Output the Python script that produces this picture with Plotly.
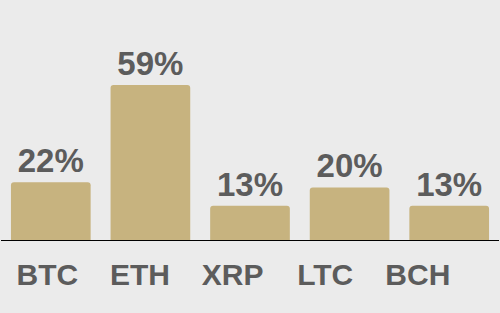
import plotly.graph_objects as go

categories = ["BTC", "ETH", "XRP", "LTC", "BCH"]
values = [22, 59, 13, 20, 13]
value_labels = ["22%", "59%", "13%", "20%", "13%"]

BG = "#ebebeb"
BAR = "#c7b37f"
TXT = "#5c5c5c"
FONT = "Liberation Sans, Arial, sans-serif"

fig = go.Figure()
fig.add_trace(go.Bar(
    x=categories, y=values, text=value_labels, textposition="outside",
    textfont=dict(family=FONT, size=33, color=TXT, weight="bold"),
    marker=dict(color=BAR, cornerradius=3, line=dict(width=0)),
    cliponaxis=False, showlegend=False, hoverinfo="skip",
))
fig.add_trace(go.Scatter(
    x=categories, y=[0] * len(categories), xaxis="x2", yaxis="y",
    mode="markers", marker=dict(opacity=0), showlegend=False, hoverinfo="skip",
))

fig.update_layout(
    width=500, height=313,
    margin=dict(l=1, r=1, t=0, b=73, pad=0),
    paper_bgcolor=BG, plot_bgcolor="rgba(0,0,0,0)",
    bargap=0.2,
    xaxis=dict(type="category", showticklabels=False, showgrid=False, zeroline=False,
               showline=True, linecolor="black", linewidth=1, ticks="",
               domain=[0, 1], range=[-0.5, 4.5]),
    xaxis2=dict(type="category", anchor="y", side="bottom",
                domain=[0.0, 0.93], range=[-0.5, 4.5], showgrid=False, zeroline=False,
                showline=False, ticks="", ticklabelstandoff=14,
                tickfont=dict(family=FONT, size=30, color=TXT, weight="bold")),
    yaxis=dict(range=[0, 91.3], showticklabels=False, showgrid=False, zeroline=False,
               showline=False, ticks=""),
)

fig.write_html("out.html")
